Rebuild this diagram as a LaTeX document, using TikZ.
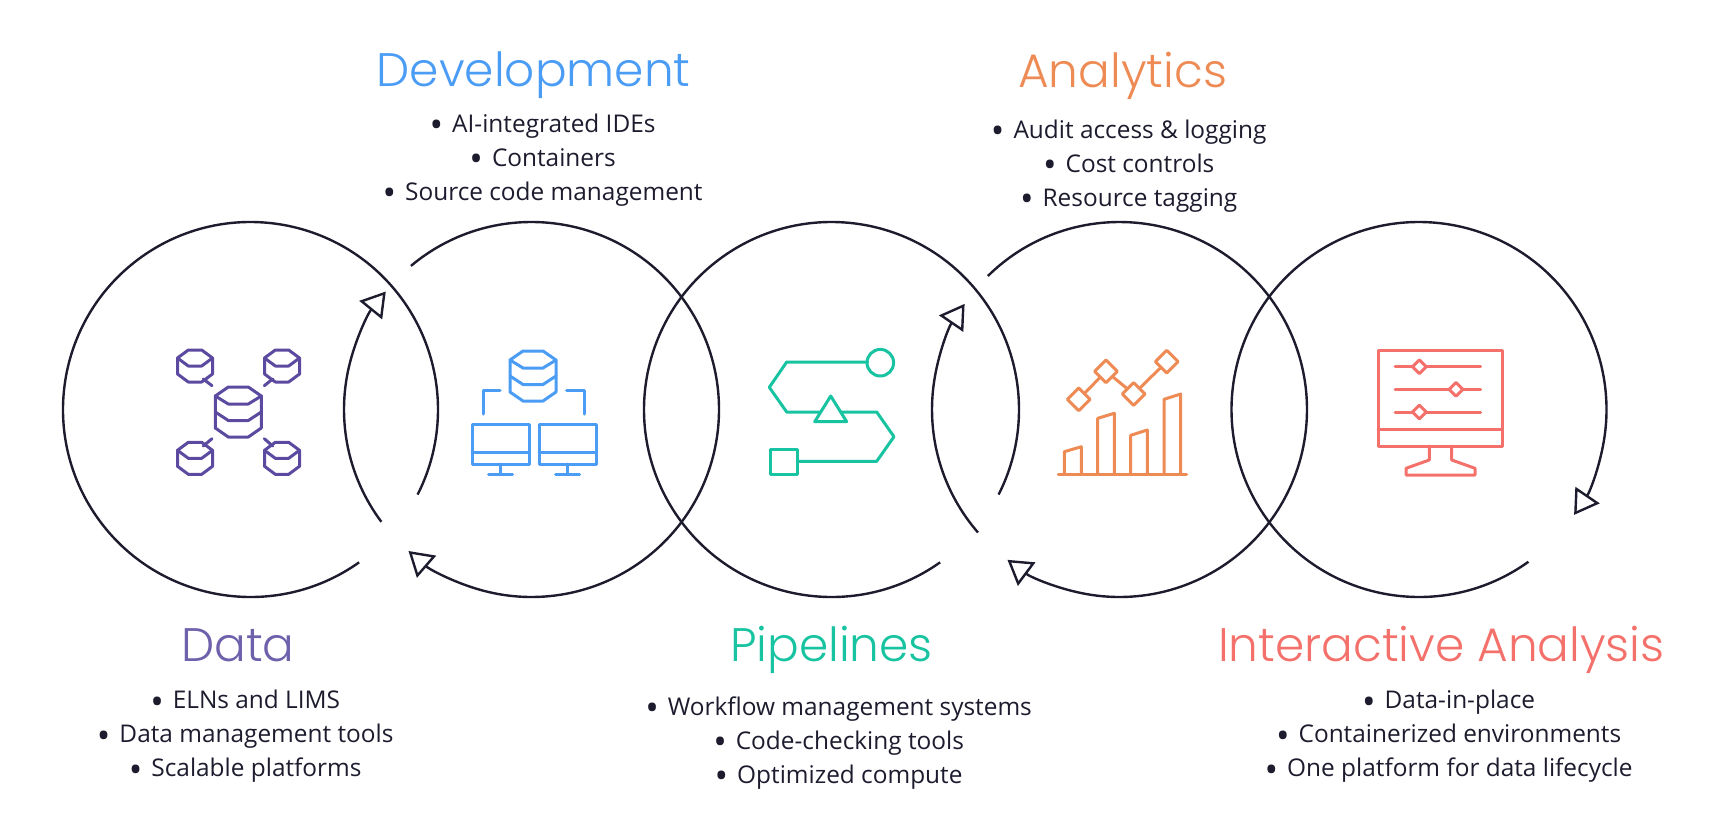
\documentclass[tikz,border=0pt]{standalone}
\usepackage{fontspec}
\setmainfont{Open Sans}
\newfontfamily\headfont{Poppins Light}
\usetikzlibrary{positioning}
\usetikzlibrary{shapes.geometric, arrows.meta}

\definecolor{inkdark}{HTML}{1C1C2E}
\definecolor{datacol}{HTML}{5B4A9F}
\definecolor{datahead}{HTML}{6F60AB}
\definecolor{devcol}{HTML}{4A9CF5}
\definecolor{pipecol}{HTML}{17C3A0}
\definecolor{anacol}{HTML}{EE8B55}
\definecolor{intcol}{HTML}{F4716B}

\tikzset{
  ring/.style={draw=inkdark, line width=2.4pt},
  ringtip/.style={ring, -{Triangle[open, length=24pt, width=29pt, line width=2.4pt]}},
  icon/.style={line width=3pt, line join=round, line cap=round},
  headtext/.style={font=\headfont\fontsize{47}{50}\selectfont, anchor=base},
  listtext/.style={font=\fontsize{24.4}{34}\selectfont, text=inkdark, align=center},
  knob/.style={diamond, icon, fill=white, inner sep=0pt, minimum width=15pt, minimum height=15pt},
  point/.style={diamond, icon, inner sep=0pt, minimum width=24pt, minimum height=24pt},
  dbone/.pic={
    \draw[icon] (-17.5,-8)--(-6.7,-16)--(6.7,-16)--(17.5,-8)--(17.5,8)--(6.7,16)--(-6.7,16)--(-17.5,8)--cycle;
    \draw[icon] (-17.5,-8)--(-6.7,0)--(6.7,0)--(17.5,-8);
  },
  dbtwo/.pic={
    \draw[icon] (-23,-16)--(-10,-25)--(10,-25)--(23,-16)--(23,16)--(10,25)--(-10,25)--(-23,16)--cycle;
    \draw[icon] (-23,-16)--(-10,-8)--(10,-8)--(23,-16);
    \draw[icon] (-23,0)--(-10,8.5)--(10,8.5)--(23,0);
  },
  screen/.pic={
    \draw[icon] (-28.5,-20)rectangle(28.5,20);
    \draw[icon] (-28.5,8.5)--(28.5,8.5);
    \draw[icon] (0,20)--(0,30.5);
    \draw[icon] (-12,30.5)--(12,30.5);
  }
}

\newcommand{\itemline}[1]{{\fontsize{36}{34}\selectfont\raisebox{-5.5pt}{\textbullet}}\hspace{9pt}#1}

\begin{document}
\begin{tikzpicture}[x=1pt, y=-1pt]
\useasboundingbox (0,0) rectangle (1736,838);

\coordinate (ca) at (250.5,409.5);
\coordinate (cb) at (531.5,409.5);
\coordinate (cc) at (831.5,409.5);
\coordinate (cd) at (1119.5,409.5);
\coordinate (ce) at (1419,409.5);

% rings
\draw[ring] (ca) ++(54.6:187.5) arc (54.6:387:187.5);
\draw[ringtip] (cb) ++(-130:187.5) arc (-130:105:187.5) arc (105:131:187.5);
\draw[ringtip] (cb) ++(-216.8:187.5) arc (-216.8:-167:187.5) arc (-167:-141:187.5);
\draw[ring] (cc) ++(54.6:187.5) arc (54.6:387:187.5);
\draw[ringtip] (cd) ++(-134.6:187.5) arc (-134.6:100:187.5) arc (100:126.7:187.5);
\draw[ringtip] (cd) ++(-221:187.5) arc (-221:-172:187.5) arc (-172:-145.7:187.5);
\draw[ringtip] (ce) ++(54.3:187.5) arc (54.3:368:187.5) arc (8:34.2:187.5);

% data icon
\begin{scope}[draw=datacol]
\pic[draw=datacol] at (195,366) {dbone};
\pic[draw=datacol] at (282,366) {dbone};
\pic[draw=datacol] at (195,458.3) {dbone};
\pic[draw=datacol] at (282,458.3) {dbone};
\pic[draw=datacol] at (238.3,412) {dbtwo};
\draw[icon] (203.3,379) -- (212,385.7);
\draw[icon] (272.7,379) -- (264.3,385.7);
\draw[icon] (203.3,446) -- (212,438.7);
\draw[icon] (272.7,446) -- (264.3,438.7);
\end{scope}

% development icon
\begin{scope}[draw=devcol]
\pic[draw=devcol] at (533,376) {dbtwo};
\pic[draw=devcol] at (500.5,444.2) {screen};
\pic[draw=devcol] at (567.5,444.2) {screen};
\draw[icon] (483.3,414) -- (483.3,390) -- (500,390);
\draw[icon] (566.7,390) -- (584.3,390) -- (584.3,414);
\end{scope}

% pipelines icon
\begin{scope}[draw=pipecol]
\draw[icon] (867.7,362) -- (786.7,362) -- (769.3,387.3) -- (786.7,412) -- (876.7,412) -- (894,436.7) -- (876.7,461.3) -- (797.3,461.3);
\draw[icon] (880.3,362.7) circle (13.3);
\draw[icon] (770.3,449) rectangle (797.3,474.3);
\draw[icon, fill=white] (830.7,396) -- (814.7,421.7) -- (846.7,421.7) -- cycle;
\end{scope}

% analytics icon
\begin{scope}[draw=anacol]
\node[point, draw=anacol] (pa) at (1078.7,399.3) {};
\node[point, draw=anacol] (pb) at (1106,371.3) {};
\node[point, draw=anacol] (pc) at (1133.7,394) {};
\node[point, draw=anacol] (pd) at (1166.7,361.7) {};
\draw[icon] (pa) -- (pb);
\draw[icon] (pb) -- (pc);
\draw[icon] (pc) -- (pd);
\draw[icon] (1058.3,474) -- (1186.7,474);
\draw[icon] (1064.3,474) -- (1064.3,451.7) -- (1081.3,446.7) -- (1081.3,474);
\draw[icon] (1097.7,474) -- (1097.7,418.3) -- (1114.3,413.3) -- (1114.3,474);
\draw[icon] (1130.7,474) -- (1130.7,435.3) -- (1147.3,430) -- (1147.3,474);
\draw[icon] (1164,474) -- (1164,399.3) -- (1180.7,394) -- (1180.7,474);
\end{scope}

% interactive icon
\begin{scope}[draw=intcol]
\draw[icon] (1378,350) rectangle (1502.7,446);
\draw[icon] (1378,429) -- (1502.7,429);
\draw[icon] (1395,366.7) -- (1480.7,366.7);
\draw[icon] (1395,389.3) -- (1480.7,389.3);
\draw[icon] (1395,412) -- (1480.7,412);
\node[knob, draw=intcol] (ka) at (1419.3,366.7) {};
\node[knob, draw=intcol] (kb) at (1456,389.3) {};
\node[knob, draw=intcol] (kc) at (1419.3,412) {};
\draw[icon] (1429.3,446) -- (1429.3,460) -- (1406,468.3) -- (1406,475) -- (1475,475) -- (1475,468.3) -- (1451.7,460) -- (1451.7,446);
\end{scope}

% labels
\node[headtext, text=devcol] (devhead) at (533.6,86) {Development};
\node[listtext] (devlist) at (542.6,160) {\itemline{AI-integrated IDEs}\\\itemline{Containers}\\\itemline{Source code management}};
\node[headtext, text=anacol] (anahead) at (1122.6,87) {Analytics};
\node[listtext] (analist) at (1128.7,166) {\itemline{Audit access \& logging}\\\itemline{Cost controls}\\\itemline{Resource tagging}};
\node[headtext, text=datahead] (datahd) at (238,661) {Data};
\node[listtext] (datalist) at (245.2,736.5) {\itemline{ELNs and LIMS}\\\itemline{Data management tools}\\\itemline{Scalable platforms}};
\node[headtext, text=pipecol] (pipehead) at (831.4,661) {Pipelines};
\node[listtext] (pipelist) at (838.6,743) {\itemline{Workflow management systems}\\\itemline{Code-checking tools}\\\itemline{Optimized compute}};
\node[headtext, text=intcol] (inthead) at (1441.4,661) {Interactive Analysis};
\node[listtext] (intlist) at (1448.6,736.5) {\itemline{Data-in-place}\\\itemline{Containerized environments}\\\itemline{One platform for data lifecycle}};
\end{tikzpicture}
\end{document}
